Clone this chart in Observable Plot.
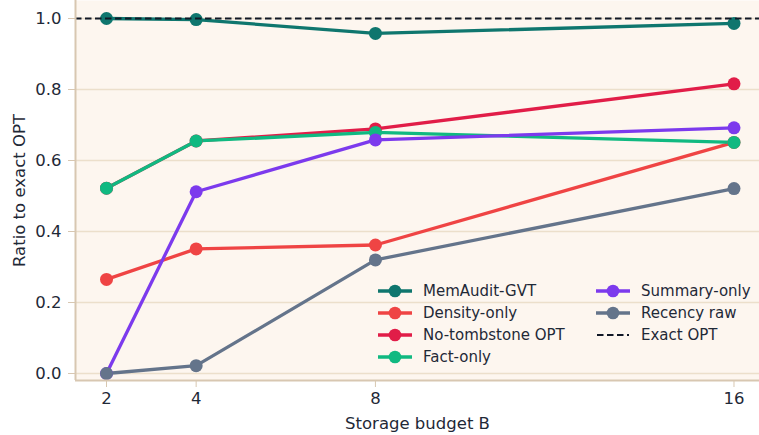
<!DOCTYPE html>
<html><head><meta charset="utf-8">
<script src="https://cdn.jsdelivr.net/npm/d3@7"></script>
<script src="https://cdn.jsdelivr.net/npm/@observablehq/plot@0.6"></script>
<style>
body{margin:0;background:#fff;font-family:"DejaVu Sans",sans-serif;}
#wrap{position:relative;width:759px;height:435px;overflow:hidden;}
#legend{position:absolute;left:378px;top:280px;display:grid;grid-template-columns:218px 160px;grid-template-rows:repeat(4,22px);grid-auto-flow:column;font-size:15px;color:#1f2937;}
.item{display:flex;align-items:center;height:22px;white-space:nowrap;}
.item svg{margin-right:11px;flex:none;}
</style></head><body><div id="wrap"></div>
<script>
const budgets = [2, 4, 8, 16];
const seriesNames = ["MemAudit-GVT", "Density-only", "No-tombstone OPT", "Fact-only", "Summary-only", "Recency raw"];
const seriesColors = ["#0f766e", "#ef4444", "#e11d48", "#10b981", "#7c3aed", "#64748b"];
const memAuditGVT = [1.0, 0.997, 0.958, 0.986];
const densityOnly = [0.265, 0.351, 0.362, 0.651];
const noTombstoneOPT = [0.522, 0.655, 0.689, 0.816];
const factOnly = [0.522, 0.655, 0.679, 0.651];
const summaryOnly = [0.0, 0.512, 0.658, 0.692];
const recencyRaw = [0.0, 0.022, 0.320, 0.521];
const exactOPT = [1.0];
const yTicks = [0.0, 0.2, 0.4, 0.6, 0.8, 1.0];

const seriesValues = [memAuditGVT, densityOnly, noTombstoneOPT, factOnly, summaryOnly, recencyRaw];
const data = seriesNames.flatMap((name, i) => budgets.map((b, j) => ({series: name, B: b, v: seriesValues[i][j]})));

const xDom = [1.308, 16.569];
const yDom = [-0.0197, 1.0507];
const spine = "#d8c7b1";

const plot = Plot.plot({
  width: 759, height: 435,
  marginLeft: 75, marginRight: 0, marginTop: 0, marginBottom: 55,
  style: {fontFamily: "DejaVu Sans, sans-serif", fontSize: "14.5px", color: "#1f2937", background: "#fff"},
  x: {domain: xDom, label: null},
  y: {domain: yDom, label: null},
  color: {domain: seriesNames, range: seriesColors},
  marks: [
    Plot.frame({fill: "#fdf6ef", stroke: null}),
    Plot.ruleY(yTicks, {stroke: "#ecdfcb", strokeWidth: 1.3}),
    Plot.line(data, {x: "B", y: "v", z: "series", stroke: "series", strokeWidth: 3.3}),
    Plot.dot(data, {x: "B", y: "v", fill: "series", r: 6.5}),
    Plot.ruleY(exactOPT, {stroke: "#111827", strokeDasharray: "6.5,3.5", strokeWidth: 1.8}),
    Plot.axisX(budgets, {tickSize: 7, tickPadding: 5, stroke: spine, tickFormat: d => String(d),
      label: "Storage budget B", labelAnchor: "center", labelArrow: "none", labelOffset: 48, fontSize: 16.5}),
    Plot.axisY(yTicks, {tickSize: 7, tickPadding: 7, stroke: spine, tickFormat: d => d.toFixed(1),
      label: "Ratio to exact OPT", labelAnchor: "center", labelArrow: "none", labelOffset: 62, fontSize: 16.5}),
    Plot.ruleX([xDom[0]], {stroke: spine, strokeWidth: 2}),
    Plot.ruleY([yDom[0]], {stroke: spine, strokeWidth: 2})
  ]
});
const wrap = document.getElementById("wrap");
wrap.appendChild(plot);

const legend = document.createElement("div");
legend.id = "legend";
const entries = seriesNames.map((n, i) => ({name: n, color: seriesColors[i], dashed: false}))
  .concat([{name: "Exact OPT", color: "#111827", dashed: true}]);
for (const e of entries) {
  const item = document.createElement("div");
  item.className = "item";
  const sw = e.dashed
    ? `<svg width="34" height="14"><line x1="1" x2="33" y1="7" y2="7" stroke="${e.color}" stroke-width="1.8" stroke-dasharray="6.5,3.5"/></svg>`
    : `<svg width="34" height="14"><line x1="0" x2="34" y1="7" y2="7" stroke="${e.color}" stroke-width="3.3"/><circle cx="17" cy="7" r="6.3" fill="${e.color}"/></svg>`;
  item.innerHTML = sw + `<span>${e.name}</span>`;
  legend.appendChild(item);
}
wrap.appendChild(legend);
</script>
</body></html>
